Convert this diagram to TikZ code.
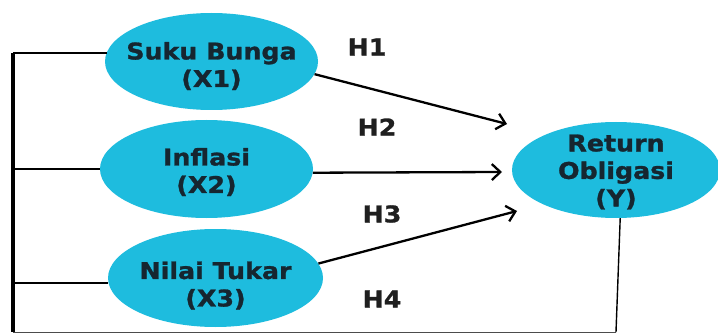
\documentclass[tikz,border=0pt]{standalone}
\usepackage{fontspec}
\newfontfamily\lblfont[FakeStretch=1.1, BoldFeatures={FakeBold=1.2}]{DejaVu Sans}
\usetikzlibrary{shapes.geometric,arrows.meta}
\definecolor{ellfill}{RGB}{30,188,222}
\definecolor{txtcol}{RGB}{22,38,48}
\begin{document}
\begin{tikzpicture}[x=1pt,y=-1pt,
  ell/.style={ellipse, fill=ellfill, draw=none, inner sep=0pt},
  lbl/.style={font=\lblfont\bfseries\fontsize{23}{27.5}\selectfont, text=txtcol, align=center, inner sep=0pt},
  hyp/.style={font=\lblfont\bfseries\fontsize{23}{26}\selectfont, text=black!88, inner sep=0pt},
  arr/.style={line width=2.3pt, -{Straight Barb[length=8.5pt,width=16pt]}},
  thinline/.style={line width=1.1pt}]
\fill[white] (0,0) rectangle (718,334);
\useasboundingbox (0,0) rectangle (718,334);

% ellipses
\node[ell, minimum width=213pt, minimum height=97pt,
  label={[lbl,yshift=-4.5pt]center:{Suku Bunga\\(X1)}}] (X1) at (211.5,61.5) {};
\node[ell, minimum width=213pt, minimum height=98pt,
  label={[lbl,yshift=-3pt]center:{Inflasi\\(X2)}}] (X2) at (206.5,169) {};
\node[ell, minimum width=215pt, minimum height=98pt,
  label={[lbl,yshift=-7.5pt]center:{Nilai Tukar\\(X3)}}] (X3) at (215.5,278) {};
\node[ell, minimum width=208pt, minimum height=96pt,
  label={[lbl,yshift=-2pt]center:{Return\\Obligasi\\(Y)}}] (Y) at (616,170) {};

% hypothesis labels
\node[hyp] (h1) at (367,47) {H1};
\node[hyp] (h2) at (377,127) {H2};
\node[hyp] (h3) at (382,214) {H3};
\node[hyp] (h4) at (382,299) {H4};

% bus coordinates
\coordinate (b1) at (13,53);
\coordinate (b2) at (13,169);
\coordinate (b3) at (13,283);
\coordinate (bl) at (13,332);
\coordinate (br) at (616,332);

\draw[line width=3.8pt] (b1) -- (bl);
\draw[thinline, shorten >=-2pt] (b1) -- (b1 -| X1.west);
\draw[thinline] (b2) -- (X2.west);
\draw[thinline] (b3) -- (b3 -| X3.west);
\draw[line width=1pt, black!70] (bl) -- (br);
\draw[line width=1.4pt] (Y.-85) -- (br);

% arrows
\coordinate (e1) at (507,124);
\coordinate (e2) at (502,172);
\coordinate (e3) at (517,211);
\draw[arr] (X1.-7) -- (e1);
\draw[arr] (X2.-2) -- (e2);
\draw[arr] (X3.8) -- (e3);
\end{tikzpicture}
\end{document}
